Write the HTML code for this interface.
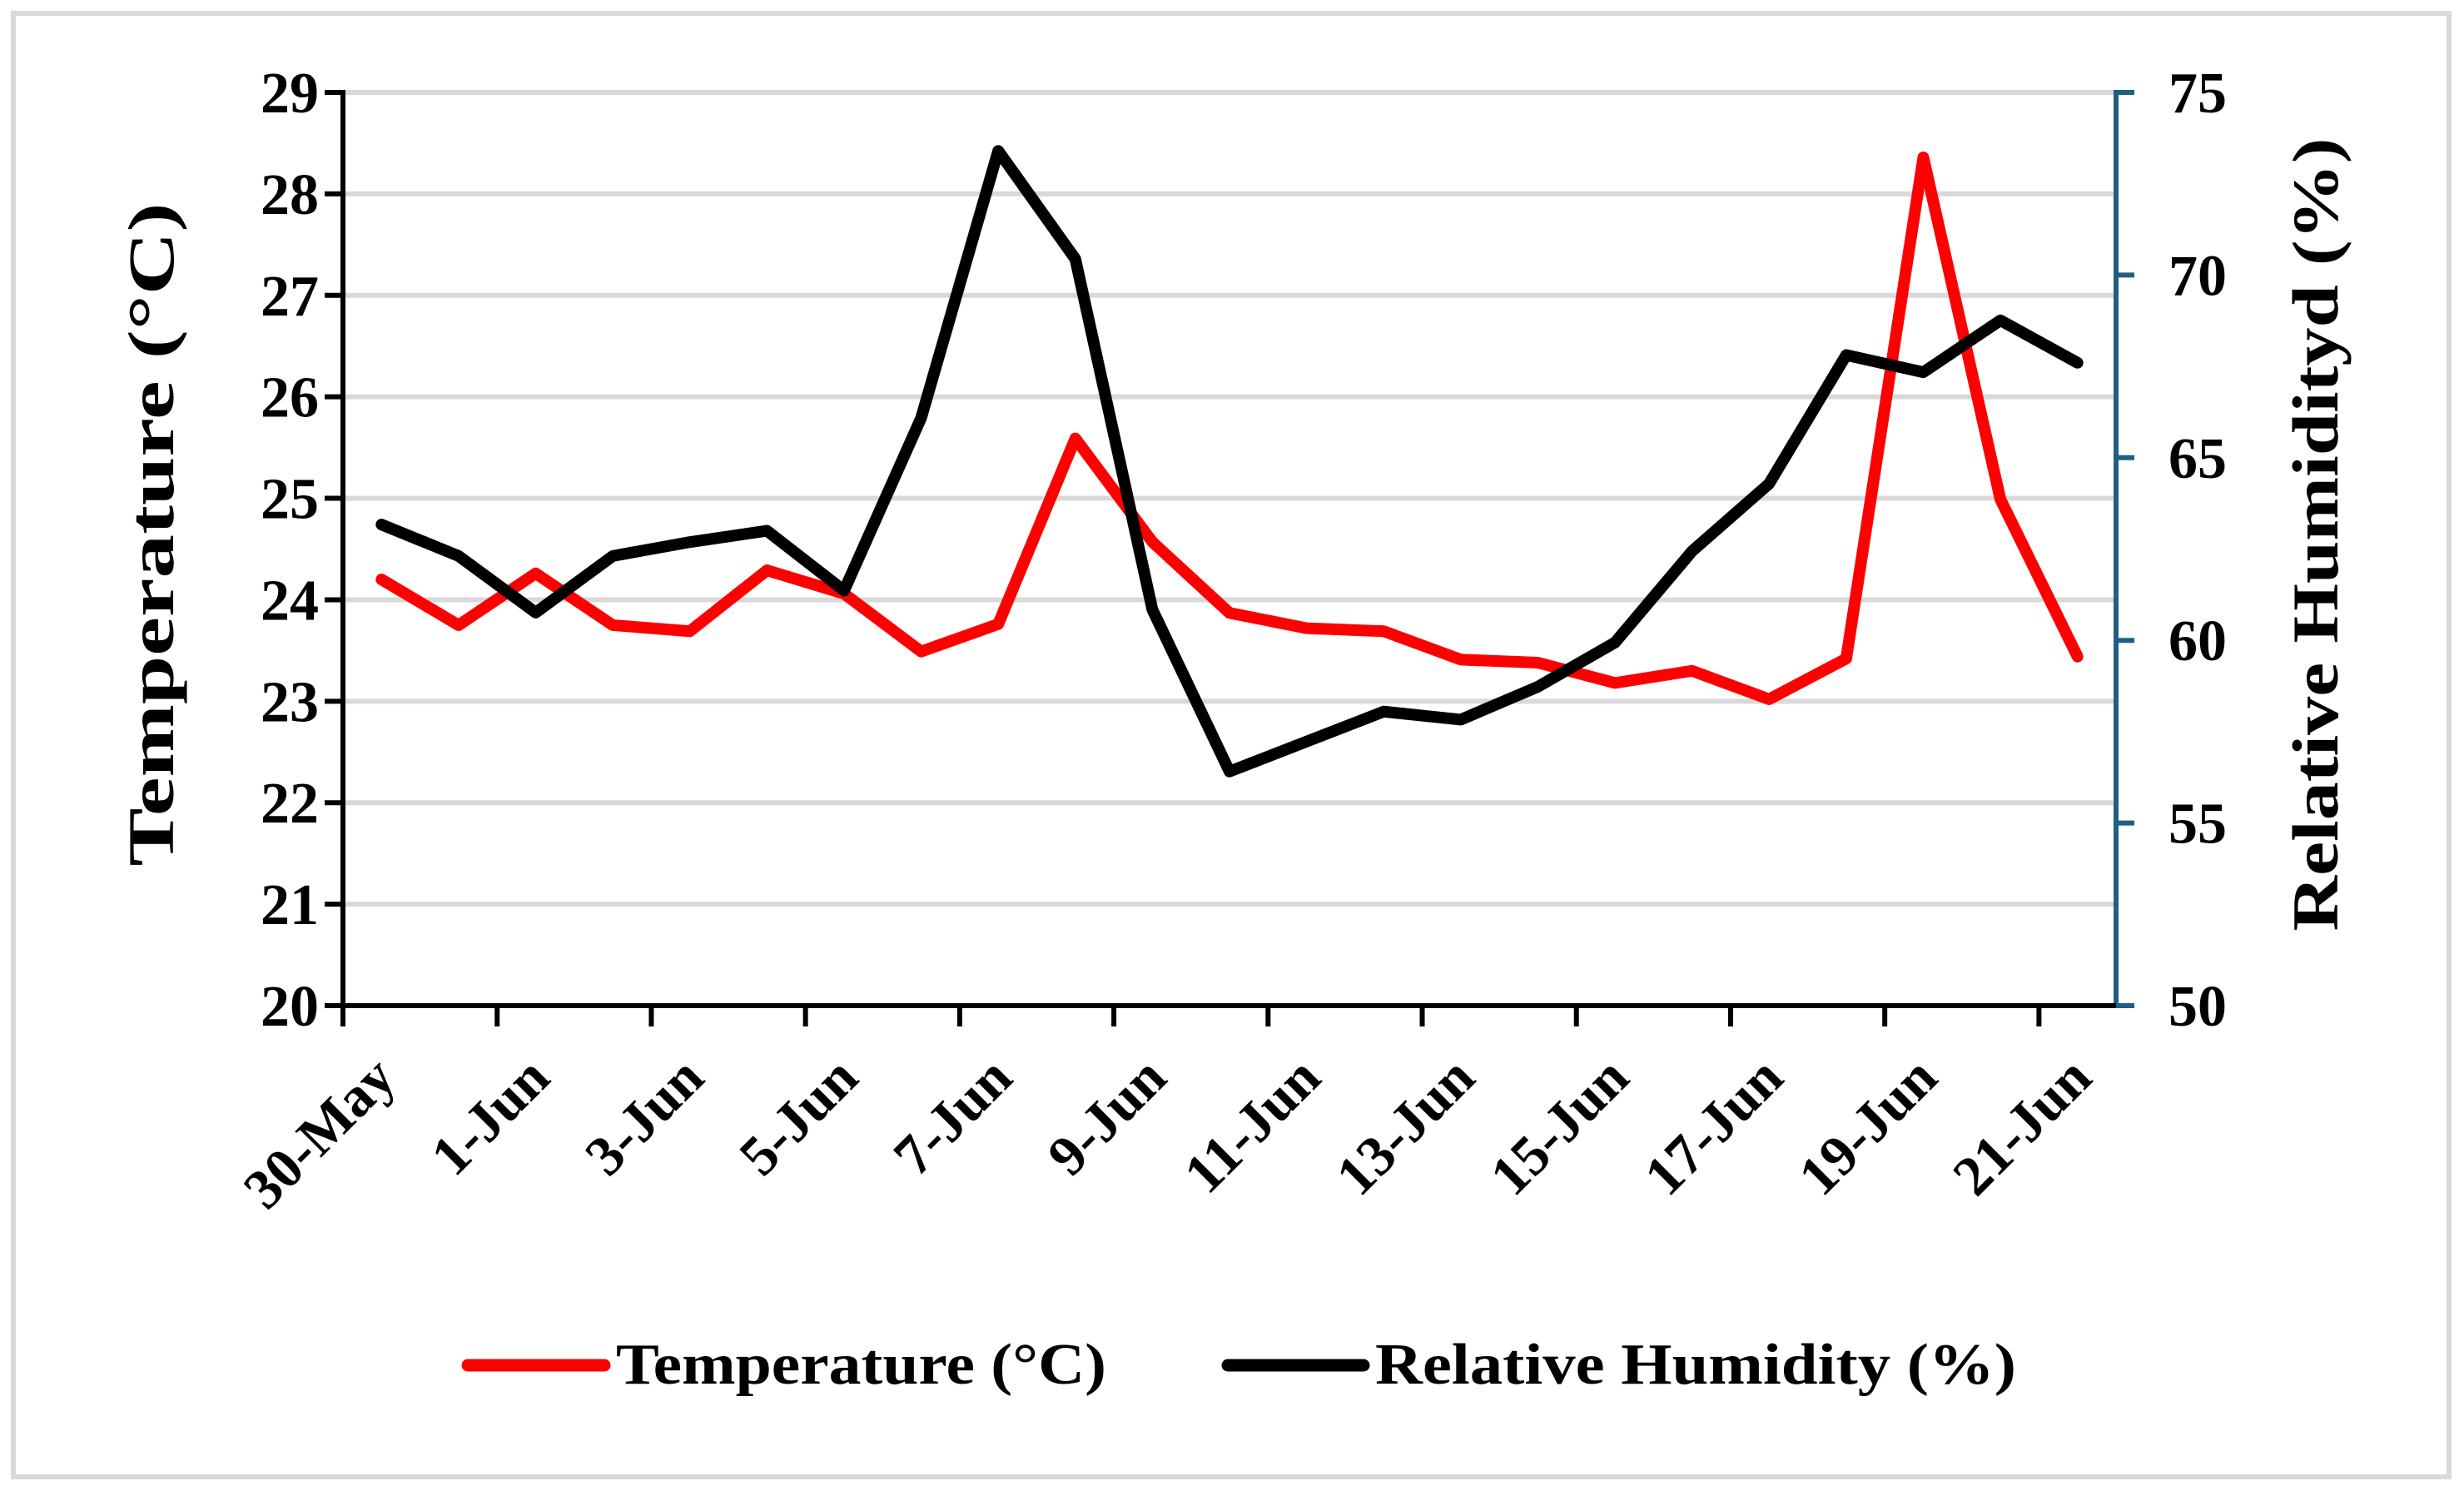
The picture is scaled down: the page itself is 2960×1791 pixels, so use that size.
<!DOCTYPE html>
<html><head><meta charset="utf-8"><style>
html,body{margin:0;padding:0;background:#fff;}
svg{display:block;font-family:"Liberation Serif",serif;font-weight:bold;}
</style></head><body>
<svg id="chart" width="2960" height="1791" viewBox="0 0 2960 1791" xmlns="http://www.w3.org/2000/svg">
<rect x="16" y="16" width="2926" height="1758" fill="#fff" stroke="#d9d9d9" stroke-width="6"/>
<g id="grid"></g><g id="axes"></g><g id="series"></g>
<text transform="translate(208,642) rotate(-90)" text-anchor="middle" font-size="78" textLength="797" lengthAdjust="spacingAndGlyphs">Temperature (°C)</text>
<text transform="translate(2808,642) rotate(-90)" text-anchor="middle" font-size="78" textLength="953" lengthAdjust="spacingAndGlyphs">Relative Humidityd (%)</text>
<g>
<g>
<line x1="562" y1="1640" x2="726" y2="1640" stroke="#ff0000" stroke-width="15" stroke-linecap="round"/>
<text x="740" y="1662" font-size="70" textLength="589" lengthAdjust="spacingAndGlyphs">Temperature (°C)</text></g>
<g>
<line x1="1475" y1="1640" x2="1638" y2="1640" stroke="#000" stroke-width="15" stroke-linecap="round"/>
<text x="1652" y="1662" font-size="70" textLength="770" lengthAdjust="spacingAndGlyphs">Relative Humidity (%)</text></g>
</g>
</svg>
<script>
const categories=["30-May","31-May","1-Jun","2-Jun","3-Jun","4-Jun","5-Jun","6-Jun","7-Jun","8-Jun","9-Jun","10-Jun","11-Jun","12-Jun","13-Jun","14-Jun","15-Jun","16-Jun","17-Jun","18-Jun","19-Jun","20-Jun","21-Jun"];
const temperature=[24.2,23.75,24.26,23.75,23.69,24.29,24.06,23.49,23.76,25.59,24.57,23.87,23.72,23.69,23.41,23.38,23.18,23.3,23.02,23.42,28.36,24.99,23.44];
const humidity=[63.17,62.31,60.76,62.31,62.69,63.0,61.36,66.09,73.4,70.44,60.84,56.41,57.23,58.05,57.83,58.73,59.94,62.44,64.29,67.81,67.34,68.76,67.6];
const leftTicks=[20,21,22,23,24,25,26,27,28,29];
const rightTicks=[50,55,60,65,70,75];
const NS="http://www.w3.org/2000/svg";
const X0=412,X1=2542,Y0=1208,Y1=111;
const bw=(X1-X0)/categories.length;
function xc(i){return X0+bw*(i+0.5);}
function yl(v){return Y0-(v-20)/9*(Y0-Y1);}
function yr(v){return Y0-(v-50)/25*(Y0-Y1);}
function mk(tag,attrs,parent){const e=document.createElementNS(NS,tag);for(const k in attrs)e.setAttribute(k,attrs[k]);parent.appendChild(e);return e;}
const grid=document.getElementById('grid'),axes=document.getElementById('axes'),series=document.getElementById('series');
leftTicks.forEach(v=>{
  if(v>20){const g=mk('line',{x1:X0,x2:X1,y1:yl(v),y2:yl(v),stroke:'#d9d9d9','stroke-width':6},grid);
  
  }
  const t=mk('line',{x1:X0-22,x2:X0,y1:yl(v),y2:yl(v),stroke:'#000','stroke-width':6},axes);
  
  
  const l=mk('text',{x:383,y:yl(v)+24,'text-anchor':'end','font-size':70},axes);
  l.textContent=v;
  
  
});
rightTicks.forEach(v=>{
  const t=mk('line',{x1:X1,x2:X1+22,y1:yr(v),y2:yr(v),stroke:'#1f5f82','stroke-width':6},axes);
  
  
  const l=mk('text',{x:2605,y:yr(v)+24,'font-size':70},axes);
  l.textContent=v;
  
  
});
const la=mk('line',{x1:X0,x2:X0,y1:Y1-3,y2:Y0+25,stroke:'#000','stroke-width':6},axes);


const ra=mk('line',{x1:X1,x2:X1,y1:Y1-3,y2:Y0,stroke:'#1f5f82','stroke-width':6},axes);


const xa=mk('line',{x1:X0-22,x2:X1,y1:Y0,y2:Y0,stroke:'#000','stroke-width':6},axes);


for(let i=2;i<categories.length;i+=2){
  const t=mk('line',{x1:X0+bw*i,x2:X0+bw*i,y1:Y0,y2:Y0+25,stroke:'#000','stroke-width':6},axes);
  
  
}
categories.forEach((c,i)=>{
  if(i%2)return;
  const x=xc(i)+20,y=1298;
  const l=mk('text',{x:x,y:y,'text-anchor':'end','font-size':68,transform:`rotate(-45 ${x} ${y})`},axes);
  l.textContent=c;
  
  
});
const tp=mk('polyline',{points:temperature.map((v,i)=>xc(i)+','+yl(v)).join(' '),fill:'none',stroke:'#ff0000','stroke-width':14,'stroke-linejoin':'round','stroke-linecap':'round'},series);


const hp=mk('polyline',{points:humidity.map((v,i)=>xc(i)+','+yr(v)).join(' '),fill:'none',stroke:'#000','stroke-width':14,'stroke-linejoin':'round','stroke-linecap':'round'},series);


</script>
</body></html>
